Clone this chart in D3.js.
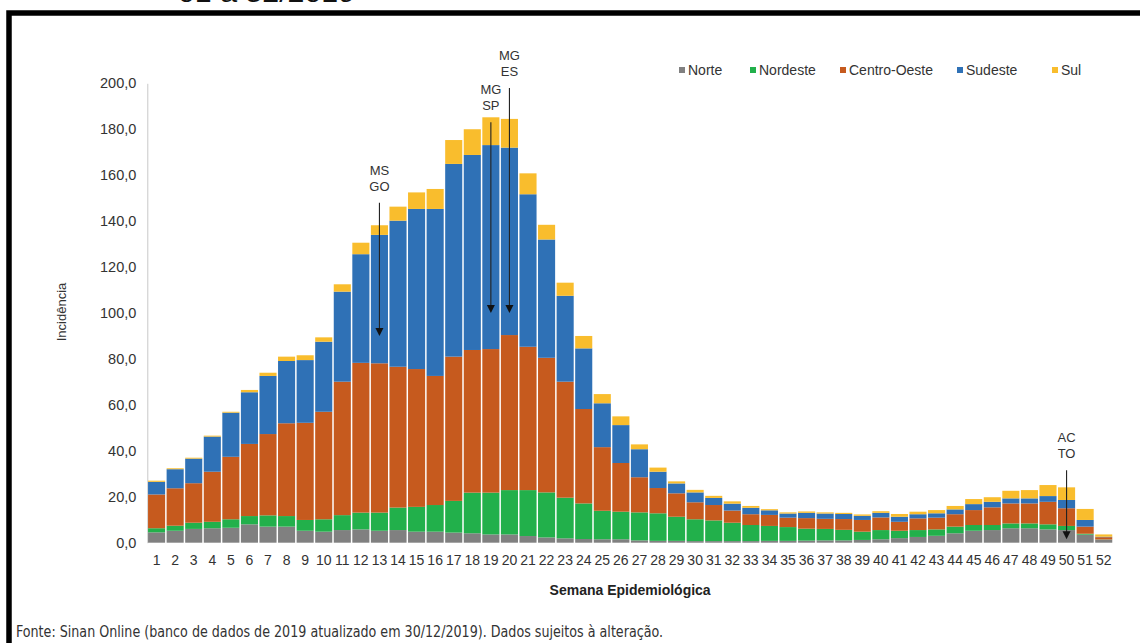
<html>

<head>
    <script src="https://d3js.org/d3.v7.min.js"></script>
    <style>
        body {
            margin: 0;
            background: #fff;
        }

        text {
            font-family: "Liberation Sans", Arial, sans-serif;
        }
    </style>
</head>

<body>
    <svg height="643" width="1140" id="chartSvg"></svg>
    <script>
        // semanas epidemiológicas 1..52
        const weeks = d3.range(1, 53).map(String);
        const regions = ["Norte", "Nordeste", "Centro-Oeste", "Sudeste", "Sul"];
        const colors = ["#808080", "#22b04b", "#c65a1e", "#2f71b6", "#f9bd2d"];

        const norte = [4.5, 5.2, 6.0, 6.3, 6.5, 8.0, 7.0, 7.0, 5.2, 4.8, 5.5, 5.8, 5.2, 5.5, 4.8, 4.8, 4.4, 4.1, 3.6, 3.6,
            2.9, 2.3, 1.9, 1.6, 1.5, 1.5, 1.0, 0.8, 0.8, 0.7, 0.7, 0.7, 0.7, 0.8, 0.8, 0.9, 1.0, 1.0, 1.2, 1.5,
            2.0, 2.5, 3.0, 4.1, 5.2, 5.5, 6.3, 6.3, 5.8, 5.5, 3.5, 1.3];
        const nordeste = [1.8, 2.2, 2.7, 2.8, 3.7, 3.6, 4.9, 4.6, 4.7, 5.4, 6.5, 7.3, 7.9, 9.8, 10.8, 11.6, 13.8, 17.7, 18.2, 19.3,
            20.0, 19.6, 17.7, 15.5, 12.4, 12.0, 12.2, 12.0, 10.5, 9.5, 9.0, 8.0, 7.0, 6.5, 6.0, 5.2, 5.0, 4.6, 3.6, 4.0,
            3.2, 3.0, 2.8, 2.9, 2.5, 2.2, 2.1, 2.1, 2.2, 1.8, 0.4, 0.1];
        const centroOeste = [14.7, 16.3, 17.2, 21.8, 27.2, 31.4, 35.4, 40.4, 42.3, 46.8, 58.1, 65.2, 65.0, 61.3, 60.0, 56.2, 62.8, 62.1, 62.5, 67.5,
            62.4, 58.6, 50.5, 41.1, 27.7, 21.2, 15.3, 11.0, 10.2, 7.4, 6.7, 5.3, 4.7, 4.8, 4.1, 4.6, 4.4, 4.7, 5.1, 5.5,
            3.9, 5.1, 5.1, 5.4, 6.5, 7.7, 8.7, 8.7, 9.8, 7.7, 3.1, 1.0];
        const sudeste = [5.5, 8.3, 10.7, 15.3, 19.2, 22.5, 25.3, 27.1, 27.3, 30.5, 39.2, 47.3, 55.9, 63.6, 69.7, 72.7, 83.9, 84.9, 88.8, 81.6,
            66.4, 51.5, 37.4, 26.4, 19.1, 16.5, 12.2, 7.1, 4.3, 4.3, 3.1, 3.0, 2.8, 2.0, 1.8, 2.3, 2.3, 2.2, 1.8, 2.0,
            2.2, 1.8, 1.9, 2.1, 2.6, 2.4, 2.2, 2.2, 2.5, 3.6, 2.9, 0.2];
        const sul = [0.5, 0.4, 0.4, 0.4, 0.4, 1.0, 1.4, 1.9, 2.1, 1.9, 3.2, 5.0, 4.2, 6.1, 7.2, 8.7, 10.4, 11.2, 12.1, 12.5,
            9.1, 6.4, 5.7, 5.4, 4.0, 3.8, 2.1, 1.8, 0.9, 1.1, 0.9, 1.0, 0.8, 0.5, 0.5, 0.6, 0.5, 0.5, 0.6, 0.7,
            1.2, 1.1, 1.4, 1.5, 2.2, 2.0, 3.3, 3.6, 4.8, 5.5, 4.8, 1.0];

        const yTicks = [0, 20, 40, 60, 80, 100, 120, 140, 160, 180, 200];

        // UFs marcadas com seta (semana, rótulos, início da linha, ponta da seta)
        const notes = [
            { week: "13", labels: ["MS", "GO"], from: 148, to: 90 },
            { week: "19", labels: ["MG", "SP"], from: 183, to: 100 },
            { week: "20", labels: ["MG", "ES"], from: 198, to: 100 },
            { week: "50", labels: ["AC", "TO"], from: 31.5, to: 1.5 }
        ];

        const svg = d3.select("#chartSvg");
        const width = svg.attr("width");
        const height = svg.attr("height");
        const margins = { top: 83.3, right: 27, bottom: 100.3, left: 147.3 };
        const chartWidth = width - margins.left - margins.right;
        const chartHeight = height - margins.top - margins.bottom;

        // frame (only top and left edges are visible in the crop)
        svg.append("path")
            .attr("d", "M9,643 V13 H1140")
            .attr("fill", "none")
            .attr("stroke", "black")
            .attr("stroke-width", 5.5);

        // title line, cut off at the top edge as in the source image
        svg.append("text")
            .attr("x", 178)
            .attr("y", 2)
            .attr("textLength", 177)
            .attr("lengthAdjust", "spacingAndGlyphs")
            .style("font-size", "26px")
            .style("fill", "#111")
            .text("01 a 52/2019");

        let chartArea = svg.append("g")
            .attr("transform", `translate(${margins.left},${margins.top})`);

        const table = weeks.map((w, i) => ({
            week: w,
            "Norte": norte[i],
            "Nordeste": nordeste[i],
            "Centro-Oeste": centroOeste[i],
            "Sudeste": sudeste[i],
            "Sul": sul[i]
        }));

        const series = d3.stack().keys(regions)(table);

        const xScale = d3.scaleBand().domain(weeks)
            .range([0, chartWidth])
            .paddingInner(0.08)
            .paddingOuter(0.04);

        const yScale = d3.scaleLinear().domain([0, 200])
            .range([chartHeight, 0]);

        const colorScale = d3.scaleOrdinal().domain(regions).range(colors);

        const ptBR = d3.formatLocale({ decimal: ",", thousands: ".", grouping: [3], currency: ["R$", ""] });

        //y axis
        let leftAxis = d3.axisLeft(yScale).tickValues(yTicks)
            .tickFormat(ptBR.format(".1f"))
            .tickSize(0).tickSizeOuter(0).tickPadding(11);
        let yAxisG = chartArea.append("g")
            .attr("class", "y axis")
            .call(leftAxis);
        yAxisG.select(".domain").attr("stroke", "#c8c8c8");
        yAxisG.selectAll("text")
            .style("font-size", "14.5px")
            .style("fill", "#333");

        //x axis
        let bottomAxis = d3.axisBottom(xScale).tickSize(0).tickPadding(12);
        let xAxisG = chartArea.append("g")
            .attr("class", "x axis")
            .attr("transform", `translate(0,${chartHeight})`)
            .call(bottomAxis);
        xAxisG.select(".domain").remove();
        xAxisG.selectAll("text")
            .style("font-size", "14px")
            .style("fill", "#333");

        //bars
        chartArea.selectAll("g.layer").data(series)
            .join("g")
            .attr("class", "layer")
            .attr("fill", d => colorScale(d.key))
            .selectAll("rect").data(d => d)
            .join("rect")
            .attr("x", d => xScale(d.data.week))
            .attr("width", xScale.bandwidth())
            .attr("y", d => yScale(d[1]))
            .attr("height", d => yScale(d[0]) - yScale(d[1]));

        //axis titles
        svg.append("text")
            .attr("text-anchor", "middle")
            .attr("transform", `translate(66,${margins.top + chartHeight / 2 - 1}) rotate(-90)`)
            .style("font-size", "13px")
            .style("fill", "#333")
            .text("Incidência");

        svg.append("text")
            .attr("text-anchor", "middle")
            .attr("x", margins.left + chartWidth / 2)
            .attr("y", 595)
            .style("font-size", "14px")
            .style("font-weight", "bold")
            .style("fill", "#222")
            .text("Semana Epidemiológica");

        //legend
        const legendX = [679, 750, 840, 957, 1052];
        let legend = svg.append("g").selectAll("g").data(regions)
            .join("g")
            .attr("transform", (d, i) => `translate(${legendX[i]},70)`);
        legend.append("rect")
            .attr("x", 0)
            .attr("y", -3)
            .attr("width", 6)
            .attr("height", 6)
            .attr("fill", d => colorScale(d));
        legend.append("text")
            .attr("x", 9)
            .attr("y", 5)
            .style("font-size", "14px")
            .style("fill", "#333")
            .text(d => d);

        //annotations with arrows
        let note = chartArea.selectAll("g.note").data(notes)
            .join("g")
            .attr("class", "note")
            .attr("transform", d => `translate(${xScale(d.week) + xScale.bandwidth() / 2},0)`);
        note.append("line")
            .attr("y1", d => yScale(d.from))
            .attr("y2", d => yScale(d.to) - 7)
            .attr("stroke", "#222")
            .attr("stroke-width", 1.1);
        note.append("path")
            .attr("d", d => `M-4,${yScale(d.to) - 8} L4,${yScale(d.to) - 8} L0,${yScale(d.to)} Z`)
            .attr("fill", "#111");
        note.append("text")
            .attr("text-anchor", "middle")
            .attr("y", d => yScale(d.from) - 28)
            .style("font-size", "13px")
            .style("fill", "#333")
            .text(d => d.labels[0]);
        note.append("text")
            .attr("text-anchor", "middle")
            .attr("y", d => yScale(d.from) - 12)
            .style("font-size", "13px")
            .style("fill", "#333")
            .text(d => d.labels[1]);

        //source note
        svg.append("text")
            .attr("x", 16)
            .attr("y", 637)
            .attr("textLength", 647)
            .attr("lengthAdjust", "spacingAndGlyphs")
            .style("font-family", "'Liberation Sans Narrow', 'DejaVu Sans Condensed', sans-serif")
            .style("font-size", "15px")
            .style("fill", "#333")
            .text("Fonte: Sinan Online (banco de dados de 2019 atualizado em 30/12/2019). Dados sujeitos à alteração.");
    </script>
</body>

</html>
